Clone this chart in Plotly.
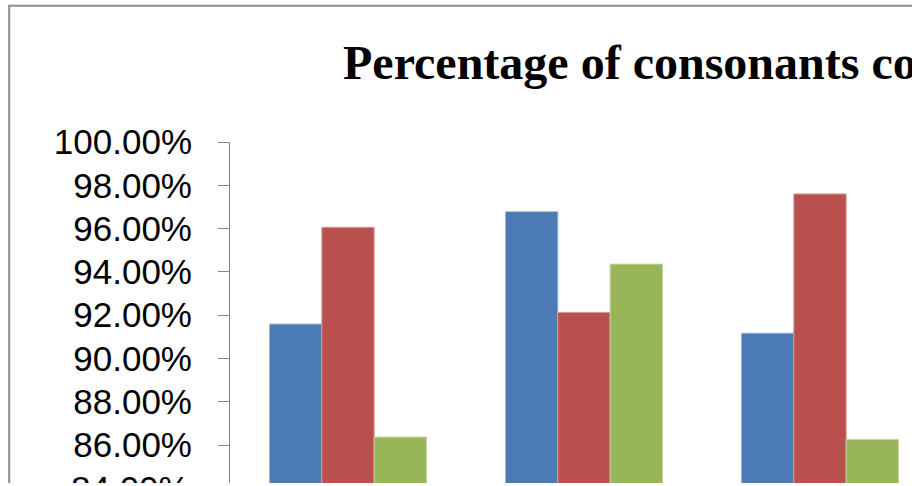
import plotly.graph_objects as go

# Chart data
categories = ["Group A", "Group B", "Group C"]
series_names = ["Series 1", "Series 2", "Series 3"]
series_1 = [0.9159, 0.9678, 0.9117]
series_2 = [0.9606, 0.9213, 0.9760]
series_3 = [0.8637, 0.9436, 0.8626]
tick_values = [0.84, 0.86, 0.88, 0.90, 0.92, 0.94, 0.96, 0.98, 1.00]

colors = ["#4A7BB5", "#B9504D", "#99B55A"]
edge_colors = ["#9DB6D9", "#D89896", "#C3D69F"]

W, H = 912, 483
PLOT_LEFT, PLOT_TOP = 230, 142
plot_w = W - PLOT_LEFT
plot_h = H - PLOT_TOP


def px_x(px):
    return (px - PLOT_LEFT) / plot_w


def px_y(py):
    return (H - py) / plot_h


fig = go.Figure()
for name, vals, c, ec in zip(series_names, [series_1, series_2, series_3], colors, edge_colors):
    fig.add_trace(go.Bar(
        x=categories, y=vals, name=name,
        marker=dict(color=c, line=dict(color=ec, width=1)),
    ))

# y range: top at 100%, bottom where the frame cuts off (around 84.24%)
y_top = 1.0
y_per_px = 0.02 / 43.3
y_bottom = y_top - plot_h * y_per_px

tick_font = dict(family="Liberation Sans", size=35, color="black")

fig.update_layout(
    width=W, height=H,
    margin=dict(l=PLOT_LEFT, r=0, t=PLOT_TOP, b=0, pad=0),
    paper_bgcolor="white", plot_bgcolor="white",
    showlegend=False,
    barmode="group", bargap=0.335, bargroupgap=0,
    title=dict(
        text="<b>Percentage of consonants correct</b>",
        font=dict(family="Liberation Serif", size=48, color="black"),
        xref="container", x=343 / W, xanchor="left",
        yref="container", y=1 - 61.8 / H, yanchor="middle",
    ),
    xaxis=dict(
        range=[-0.5, -0.5 + plot_w / 236.0],
        showline=False, showticklabels=False, ticks="", showgrid=False, zeroline=False,
    ),
    yaxis=dict(
        range=[y_bottom, y_top],
        tickvals=tick_values, tickformat=".2%",
        showline=True, linecolor="#868686", linewidth=1,
        ticks="outside", ticklen=11, tickcolor="#868686", tickwidth=1,
        tickfont=tick_font,
        showgrid=False, zeroline=False, ticklabelstandoff=19,
    ),
)

# Lowest tick label (84%), sitting just past the frame's bottom edge
fig.add_annotation(
    text="84.00%", xref="paper", x=px_x(192), xanchor="right",
    yref="paper", y=px_y(488), yanchor="middle", showarrow=False,
    font=tick_font,
)

# Chart area frame
fig.add_shape(
    type="rect", xref="paper", yref="paper",
    x0=px_x(9.2), x1=px_x(W + 50), y0=px_y(H + 50), y1=px_y(5.8),
    line=dict(color="#8C8C8C", width=2), fillcolor="rgba(0,0,0,0)", layer="below",
)

fig.write_html("out.html")
